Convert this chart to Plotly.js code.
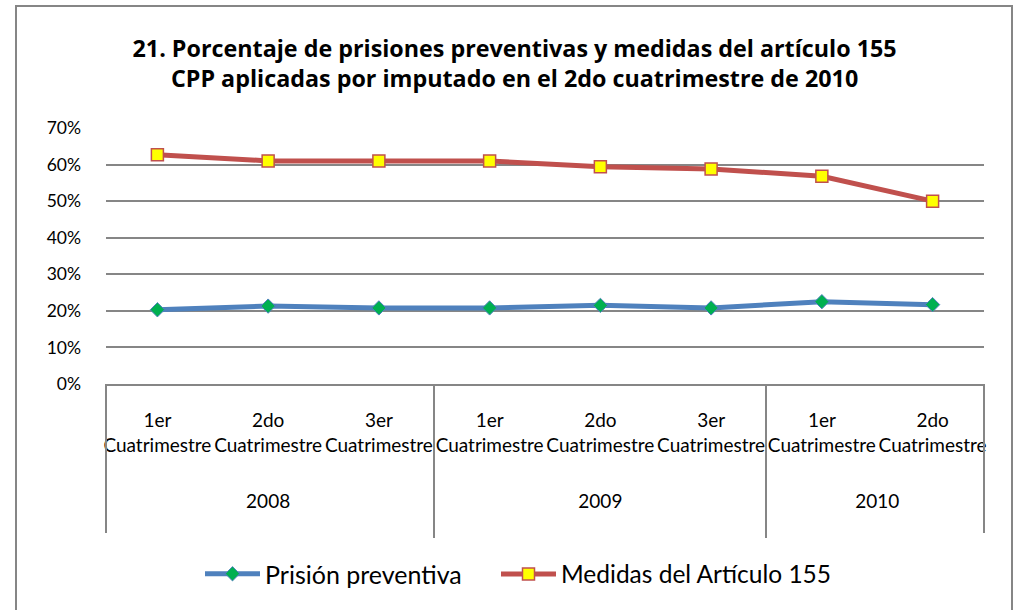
<!DOCTYPE html>
<html>
<head>
<meta charset="utf-8">
<script src="https://cdn.plot.ly/plotly-3.0.1.min.js"></script>
<style>
html,body{margin:0;padding:0;background:#fff;}
#chart{width:1015px;height:610px;}
</style>
</head>
<body>
<div id="chart"></div>
<script>
const years = ["2008","2008","2008","2009","2009","2009","2010","2010"];
const periods = ["1er Cuatrimestre","2do Cuatrimestre","3er Cuatrimestre","1er Cuatrimestre","2do Cuatrimestre","3er Cuatrimestre","1er Cuatrimestre","2do Cuatrimestre"];
const prisionPreventiva = [0.203, 0.213, 0.208, 0.208, 0.215, 0.208, 0.225, 0.217];
const medidas155 = [0.627, 0.610, 0.610, 0.610, 0.594, 0.588, 0.568, 0.500];
const seriesNames = ["Prisión preventiva", "Medidas del Artículo 155"];
const titleLines = ["21. Porcentaje de prisiones preventivas y medidas del artículo 155",
                    "CPP aplicadas por imputado en el 2do cuatrimestre de 2010"];

// label formatting (layout only)
const yearLabels = years.map(y => "<br><br>" + y + "<br> ");
const periodLabels = periods.map(p => p.replace(" ", "<br>"));

const FONT = "Lato, sans-serif";
const TFONT = "Open Sans, sans-serif";
const traces = [
  {
    type: "scatter", mode: "lines+markers", name: seriesNames[0], legend: "legend",
    x: [yearLabels, periodLabels], y: prisionPreventiva,
    line: {color: "#4F81BD", width: 5},
    marker: {symbol: "diamond", size: 11, color: "#00B050", line: {color: "#4F81BD", width: 1}}
  },
  {
    type: "scatter", mode: "lines+markers", name: seriesNames[1], legend: "legend2",
    x: [yearLabels, periodLabels], y: medidas155,
    line: {color: "#C0504D", width: 5},
    marker: {symbol: "square", size: 12, color: "#FFFF00", line: {color: "#C0504D", width: 1.5}}
  }
];

const L = 106, R = 984, T = 128, B = 384;
const pw = R - L, ph = B - T;
function px2x(p){ return (p - L) / pw; }
function px2y(p){ return (B - p) / ph; }

const legendCommon = {
  orientation: "h", xref: "container", xanchor: "left",
  yref: "container", y: 1 - 574/610, yanchor: "middle",
  font: {family: FONT, size: 25, color: "#000000"},
  itemwidth: 55, bgcolor: "rgba(0,0,0,0)"
};

const layout = {
  width: 1015, height: 610,
  margin: {l: L, r: 1015 - R, t: T, b: 610 - B},
  paper_bgcolor: "#ffffff", plot_bgcolor: "#ffffff",
  font: {family: FONT, color: "#000000", size: 19},
  title: {
    text: "<b>" + titleLines.join("<br>") + "</b>",
    font: {family: TFONT, size: 23.3, color: "#000000"},
    x: 0.507, xref: "container", xanchor: "center",
    y: 1 - 57/610, yref: "container", yanchor: "top"
  },
  showlegend: true,
  legend: Object.assign({}, legendCommon, {x: 200/1015}),
  legend2: Object.assign({}, legendCommon, {x: 496/1015, font: {family: FONT, size: 24.5, color: "#000000"}}),
  xaxis: {
    type: "multicategory",
    showline: true, linecolor: "#868686", linewidth: 2,
    showgrid: false, ticks: "", tickangle: 0, automargin: false,
    showdividers: true, dividercolor: "#868686", dividerwidth: 2,
    ticklabelstandoff: 18,
    tickfont: {family: FONT, size: 19, color: "#000000"},
    fixedrange: true
  },
  yaxis: {
    range: [0, 0.7], dtick: 0.1, tickformat: ".0%",
    showgrid: true, gridcolor: "#868686", gridwidth: 2,
    zeroline: false, showline: false, ticks: "",
    ticklabelstandoff: 24,
    tickfont: {family: FONT, size: 17.5, color: "#000000"},
    fixedrange: true
  },
  shapes: [
    {type: "rect", xref: "paper", yref: "paper",
     x0: px2x(16), x1: px2x(1012), y0: px2y(614), y1: px2y(6),
     line: {color: "#868686", width: 2}, fillcolor: "rgba(0,0,0,0)", layer: "below"},
    {type: "line", xref: "paper", yref: "paper", x0: 0, x1: 0, y0: 0, y1: px2y(533),
     line: {color: "#868686", width: 2}},
    {type: "line", xref: "paper", yref: "paper", x0: 1, x1: 1, y0: 0, y1: px2y(533),
     line: {color: "#868686", width: 2}}
  ]
};

Plotly.newPlot("chart", traces, layout, {displayModeBar: false, staticPlot: true});
</script>
</body>
</html>
